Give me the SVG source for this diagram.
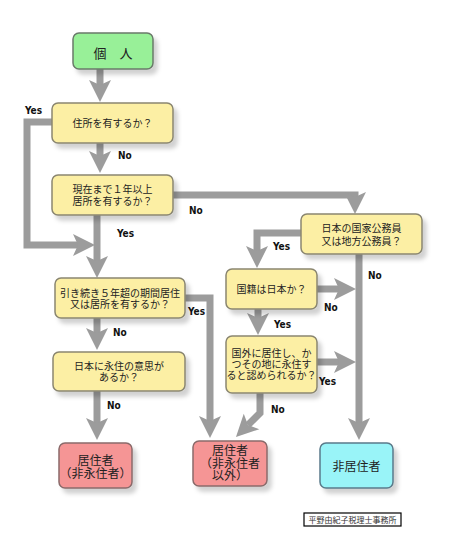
<svg xmlns="http://www.w3.org/2000/svg" width="463" height="551" viewBox="0 0 463 551">
<defs>
<filter id="sh" x="-10%" y="-10%" width="130%" height="140%">
<feDropShadow dx="4" dy="5" stdDeviation="2" flood-color="#000" flood-opacity="0.18"/>
</filter>
<marker id="ah" markerUnits="userSpaceOnUse" markerWidth="24" markerHeight="24" viewBox="0 -12 24 24" refX="5" refY="0" orient="auto">
<path d="M0,-11 L22,0 L0,11 L5,0 Z" fill="#9c9c9c"/>
</marker>
<style>
.q{fill:#fcefa4;stroke:#8a8670;stroke-width:1.5}
.g{fill:#98f098;stroke:#6a7a6a;stroke-width:1.5}
.r{fill:#f59595;stroke:#8a6a6a;stroke-width:1.5}
.c{fill:#99f4f8;stroke:#5a7a8a;stroke-width:1.5}
.t{font-family:"Noto Sans CJK JP",sans-serif;font-size:10px;fill:#222;text-anchor:middle}
.tl{font-family:"Noto Sans CJK JP",sans-serif;font-size:12px;fill:#222;text-anchor:middle}
.lb{font-family:"DejaVu Sans Condensed","Liberation Sans",sans-serif;font-weight:bold;font-size:10px;fill:#111}
.cn{fill:none;stroke:#9c9c9c;stroke-width:7;marker-end:url(#ah)}
</style>
</defs>
<rect width="463" height="551" fill="#fff"/>
<g id="connectors">
<path class="cn" d="M100,69 V85"/>
<path class="cn" d="M100,143 V156"/>
<path class="cn" d="M52,122 H27 V245 H78"/>
<path class="cn" d="M97,215 V261"/>
<path class="cn" d="M173,195 H355 V197"/>
<path class="cn" d="M185,298 H210 V421"/>
<path class="cn" d="M97,318 V333"/>
<path class="cn" d="M97,391 V423"/>
<path class="cn" d="M301,233 H257 V251"/>
<path class="cn" d="M359,254 V423"/>
<path class="cn" d="M317,289 H339"/>
<path class="cn" d="M258,309 V318"/>
<path class="cn" d="M317,362 H339"/>
<path class="cn" d="M260,393 V413 L248,425"/>
</g>
<g id="labels">
<text class="lb" x="25" y="114">Yes</text>
<text class="lb" x="118" y="159">No</text>
<text class="lb" x="189" y="214">No</text>
<text class="lb" x="117" y="237">Yes</text>
<text class="lb" x="273" y="250">Yes</text>
<text class="lb" x="368" y="279">No</text>
<text class="lb" x="324" y="311">No</text>
<text class="lb" x="188" y="315">Yes</text>
<text class="lb" x="274" y="328">Yes</text>
<text class="lb" x="113" y="336">No</text>
<text class="lb" x="319" y="385">Yes</text>
<text class="lb" x="107" y="409">No</text>
<text class="lb" x="271" y="413">No</text>
</g>
<g id="n-kojin"><rect class="g" x="73" y="33" width="80" height="36" rx="6" filter="url(#sh)"/><text class="t" style="font-size:13px" x="113" y="57.5">個　人</text></g>
<g id="n-jusho"><rect class="q" x="52" y="103" width="121" height="40" rx="6" filter="url(#sh)"/><text class="t" x="112.5" y="127">住所を有するか？</text></g>
<g id="n-genzai"><rect class="q" x="52" y="175" width="121" height="40" rx="6" filter="url(#sh)"/><text class="t" x="112.5" y="192.5">現在まで１年以上</text><text class="t" x="112.5" y="205">居所を有するか？</text></g>
<g id="n-hikitsuzuki"><rect class="q" x="55" y="278" width="130" height="40" rx="6" filter="url(#sh)"/><text class="t" x="120" y="296.5">引き続き５年超の期間居住</text><text class="t" x="120" y="307.5">又は居所を有するか？</text></g>
<g id="n-eiju"><rect class="q" x="53" y="352" width="132" height="39" rx="6" filter="url(#sh)"/><text class="t" x="119" y="369.5">日本に永住の意思が</text><text class="t" x="119" y="380.5">あるか？</text></g>
<g id="n-komuin"><rect class="q" x="301" y="214" width="121" height="40" rx="6" filter="url(#sh)"/><text class="t" x="361.5" y="231.5">日本の国家公務員</text><text class="t" x="361.5" y="244.5">又は地方公務員？</text></g>
<g id="n-kokuseki"><rect class="q" x="226" y="269" width="91" height="40" rx="6" filter="url(#sh)"/><text class="t" x="271.5" y="293">国籍は日本か？</text></g>
<g id="n-kokugai"><rect class="q" x="226" y="336" width="91" height="57" rx="6" filter="url(#sh)"/><text class="t" x="271.5" y="357">国外に居住し、か</text><text class="t" x="271.5" y="368">つその地に永住す</text><text class="t" x="271.5" y="379">ると認められるか？</text></g>
<g id="n-hieiju"><rect class="r" x="59" y="443" width="73" height="45" rx="6" filter="url(#sh)"/><text class="tl" x="95.5" y="464.5">居住者</text><text class="tl" x="95.5" y="477.5">（非永住者）</text></g>
<g id="n-igai"><rect class="r" x="193" y="441" width="74" height="45" rx="6" filter="url(#sh)"/><text class="tl" x="230" y="455">居住者</text><text class="tl" x="230" y="467.5">（非永住者</text><text class="tl" x="230" y="479.5">以外）</text></g>
<g id="n-hikyoju"><rect class="c" x="320" y="443" width="73" height="45" rx="6" filter="url(#sh)"/><text class="tl" x="356.5" y="470.5">非居住者</text></g>
<g id="footer"><rect x="304" y="513" width="97" height="13" fill="#fff" stroke="#000" stroke-width="1.2"/><text x="352.5" y="522.5" style="font-family:'Noto Sans CJK JP',sans-serif;font-size:8px;fill:#333;text-anchor:middle">平野由紀子税理士事務所</text></g>
</svg>
